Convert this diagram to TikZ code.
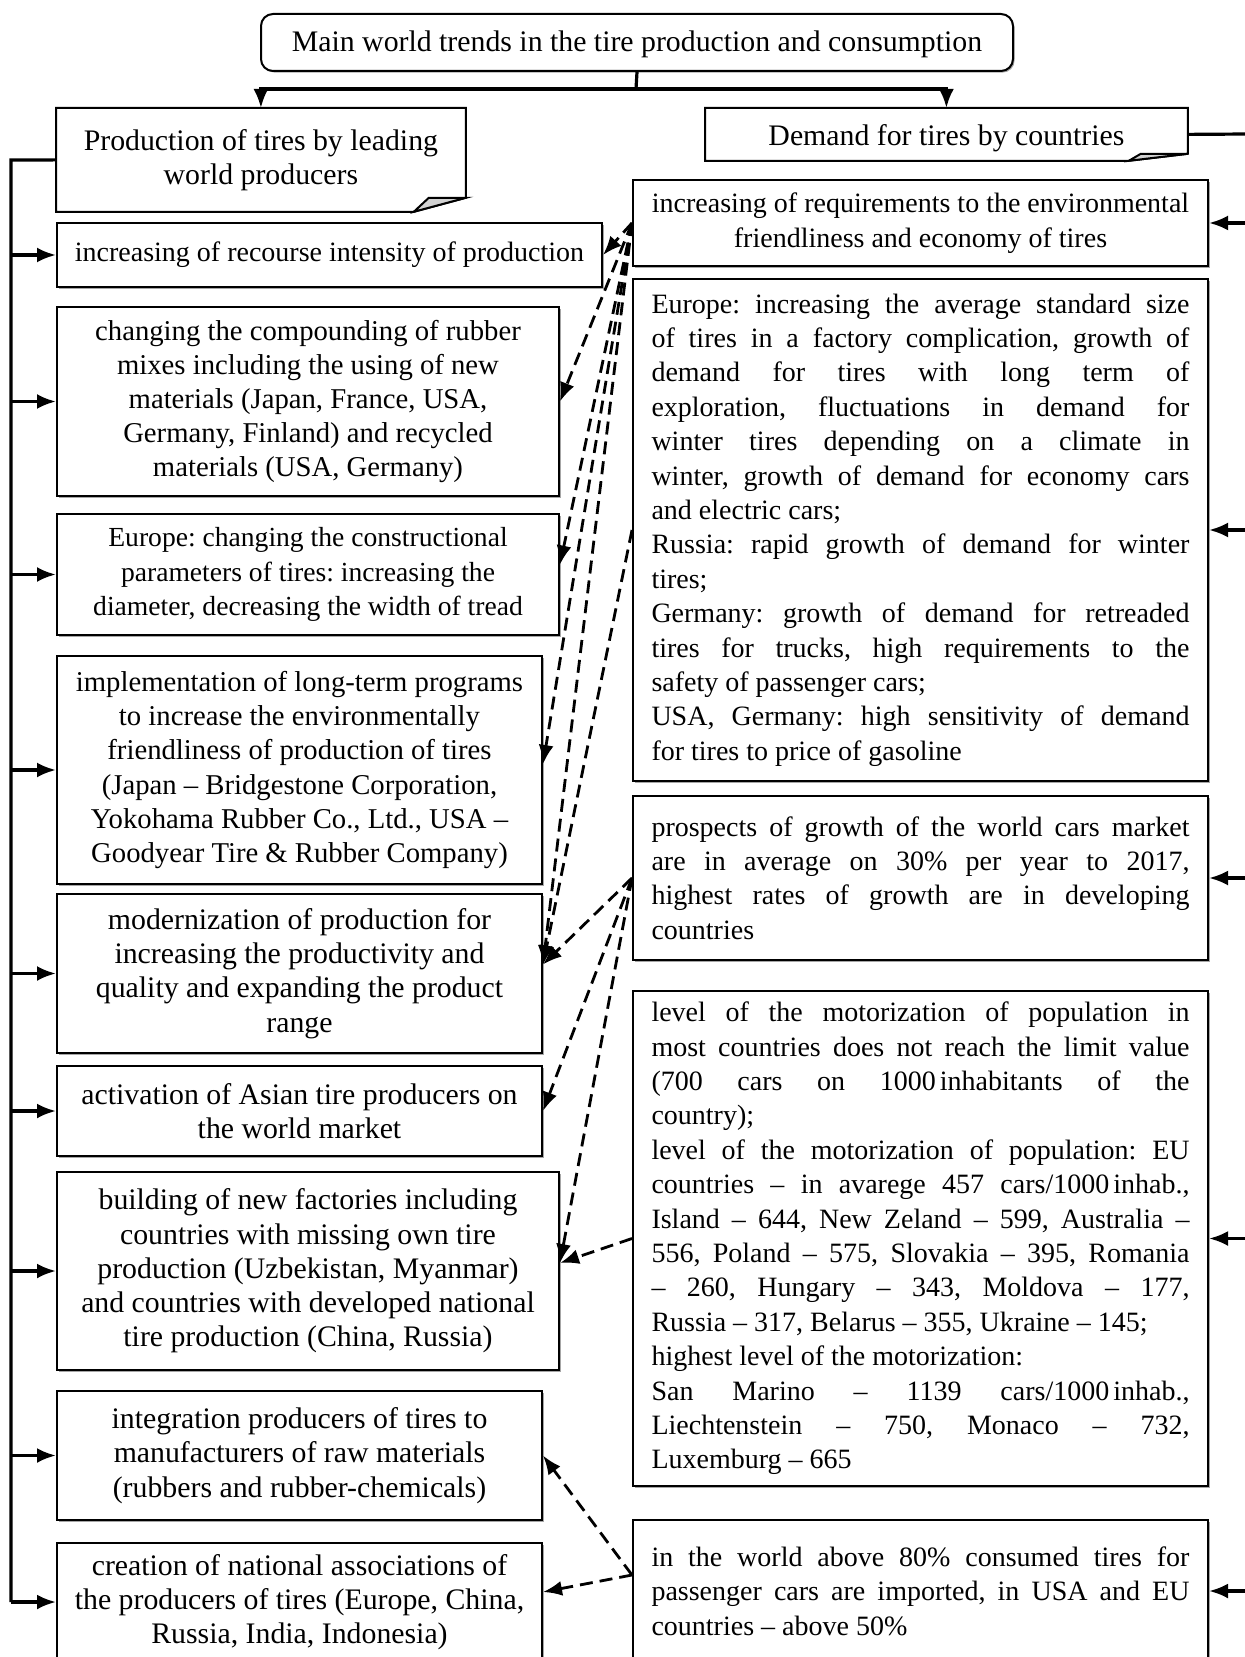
\documentclass[tikz,border=0pt]{standalone}
\usepackage{fontspec}
\setmainfont{Liberation Serif}
\usetikzlibrary{arrows.meta,shadows}
\frenchspacing

\begin{document}
\begin{tikzpicture}[x=0.5pt,y=-0.5pt]
\tikzstyle{every node}+=[font=\fontsize{14pt}{17.2pt}\selectfont]
\tikzstyle{big}=[font=\fontsize{14.9pt}{17.1pt}\selectfont]
\tikzstyle{mid}=[font=\fontsize{14.35pt}{17.1pt}\selectfont]
\tikzstyle{box}=[draw=black, line width=1pt, fill=white, inner sep=0pt, anchor=north west, align=center, drop shadow={shadow xshift=0.8pt,shadow yshift=-0.8pt,fill=gray!70,opacity=1}]
\tikzstyle{rbox}=[box, align=justify, text width=269pt, inner xsep=9.25pt]
\tikzstyle{note}=[big, inner sep=0pt, anchor=north west, align=center]
\tikzstyle{link}=[line width=1.6pt, -{Latex[length=9.5pt,width=7.5pt]}]
\tikzstyle{dlink}=[line width=1.4pt, dash pattern=on 6.5pt off 3.5pt, -{Latex[length=9.5pt,width=7.5pt]}]
\useasboundingbox (0,0) rectangle (1245,1657);

\node[box, big, rounded corners=6pt, minimum width=376pt, minimum height=28.5pt] (title) at (260,13) {\raisebox{-1pt}[\height][\depth]{Main world trends in the tire production and consumption}};

\node[note, minimum width=204.5pt, minimum height=51.5pt] (prod) at (56,108) {Production of tires by leading\\world producers};
\draw[line width=1pt] (prod.north west) -- (prod.north east) -- ([yshift=7pt]prod.south east) -- ([xshift=-26pt]prod.south east) -- (prod.south west) -- cycle;
\draw[line width=1pt, fill=gray!35] ([xshift=-26pt]prod.south east) -- ([xshift=-18.5pt,yshift=7pt]prod.south east) -- ([yshift=7pt]prod.south east) -- cycle;

\node[note, minimum width=241pt, minimum height=26pt] (demand) at (705,108) {\raisebox{-2pt}[\height][\depth]{Demand for tires by countries}};
\draw[line width=1pt] (demand.north west) -- (demand.north east) -- ([yshift=3.5pt]demand.south east) -- ([xshift=-29.5pt]demand.south east) -- (demand.south west) -- cycle;
\draw[line width=1pt, fill=gray!35] ([xshift=-29.5pt]demand.south east) -- ([xshift=-23.5pt,yshift=3.5pt]demand.south east) -- ([yshift=3.5pt]demand.south east) -- cycle;

\node[box, minimum width=272.5pt, minimum height=32pt] (b1) at (56,222) {increasing of recourse intensity of production};
\node[box, mid, minimum width=251pt, minimum height=94.5pt] (b2) at (56,306) {changing the compounding of rubber\\mixes including the using of new\\materials (Japan, France, USA,\\Germany, Finland) and recycled\\materials (USA, Germany)};
\node[box, font=\fontsize{13.8pt}{17.1pt}\selectfont, minimum width=251pt, minimum height=60.5pt] (b3) at (56,513) {Europe: changing the constructional\\parameters of tires: increasing the\\diameter, decreasing the width of tread};
\node[box, mid, minimum width=242.5pt, minimum height=114pt] (b4) at (56,655) {implementation of long-term programs\\to increase the environmentally\\friendliness of production of tires\\(Japan -- Bridgestone Corporation,\\Yokohama Rubber Co., Ltd., USA --\\Goodyear Tire \& Rubber Company)};
\node[box, big, minimum width=242.5pt, minimum height=79.5pt] (b5) at (56,893) {modernization of production for\\increasing the productivity and\\quality and expanding the product\\range};
\node[box, big, minimum width=242.5pt, minimum height=45pt] (b6) at (56,1065) {activation of Asian tire producers on\\the world market};
\node[box, big, minimum width=251pt, minimum height=99pt] (b7) at (56,1171) {building of new factories including\\countries with missing own tire\\production (Uzbekistan, Myanmar)\\and countries with developed national\\tire production (China, Russia)};
\node[box, big, minimum width=242.5pt, minimum height=64.5pt] (b8) at (56,1390) {integration producers of tires to\\manufacturers of raw materials\\(rubbers and rubber-chemicals)};
\node[box, big, minimum width=242.5pt, minimum height=59pt] (b9) at (56,1542) {creation of national associations of\\the producers of tires (Europe, China,\\Russia, India, Indonesia)};

\node[box, minimum width=287.5pt, minimum height=43pt] (r1) at (632,179) {increasing of requirements to the environmental\\friendliness and economy of tires};
\node[rbox, minimum height=251pt] (r2) at (632,278) {Europe: increasing the average standard size\linebreak of tires in a factory complication, growth of\linebreak demand for tires with long term of\linebreak exploration, fluctuations in demand for\linebreak winter tires depending on a climate in\linebreak winter, growth of demand for economy cars\linebreak and electric cars;\\Russia: rapid growth of demand for winter\linebreak tires;\\Germany: growth of demand for retreaded\linebreak tires for trucks, high requirements to the\linebreak safety of passenger cars;\\USA, Germany: high sensitivity of demand\linebreak for tires to price of gasoline};
\node[rbox, minimum height=82pt] (r3) at (632,795) {prospects of growth of the world cars market\linebreak are in average on 30\% per year to 2017,\linebreak highest rates of growth are in developing\linebreak countries};
\node[rbox, minimum height=247.5pt] (r4) at (632,990) {level of the motorization of population in\linebreak most countries does not reach the limit value\linebreak (700 cars on 1000\kern2pt inhabitants of the\linebreak country);\\level of the motorization of population: EU\linebreak countries -- in avarege 457 cars/1000\kern2pt inhab.,\linebreak Island -- 644, New Zeland -- 599, Australia --\linebreak 556, Poland -- 575, Slovakia -- 395, Romania\linebreak -- 260, Hungary -- 343, Moldova -- 177,\linebreak Russia -- 317, Belarus -- 355, Ukraine -- 145;\\highest level of the motorization:\\San Marino -- 1139 cars/1000\kern2pt inhab.,\linebreak Liechtenstein -- 750, Monaco -- 732,\linebreak Luxemburg -- 665};
\node[rbox, minimum height=71pt] (r5) at (632,1519) {in the world above 80\% consumed tires for\linebreak passenger cars are imported, in USA and EU\linebreak countries -- above 50\%};

\coordinate (split) at (636,89);
\draw[line width=1.6pt] (title.south) -- (split);
\draw[link] (split) -| (prod.north);
\draw[link] (split) -| (demand.north);

\coordinate (ltop) at (11,160);
\draw[line width=1.6pt] (prod.west) -- (ltop) -- (ltop |- b9.west);
\draw[link] (ltop |- b1.west) -- (b1.west);
\draw[link] (ltop |- b2.west) -- (b2.west);
\draw[link] (ltop |- b3.west) -- (b3.west);
\draw[link] (ltop |- b4.west) -- (b4.west);
\draw[link] (ltop |- b5.west) -- (b5.west);
\draw[link] (ltop |- b6.west) -- (b6.west);
\draw[link] (ltop |- b7.west) -- (b7.west);
\draw[link] (ltop |- b8.west) -- (b8.west);
\draw[link] (ltop |- b9.west) -- (b9.west);

\coordinate (rtop) at (1249,134);
\draw[line width=1.6pt] (demand.east) -- (rtop) -- (rtop |- r5.east);
\draw[link] (rtop |- r1.east) -- (r1.east);
\draw[link] (rtop |- r2.east) -- (r2.east);
\draw[link] (rtop |- r3.east) -- (r3.east);
\draw[link] (rtop |- r4.east) -- (r4.east);
\draw[link] (rtop |- r5.east) -- (r5.east);

\draw[dlink] (r1.west) -- (b1.east);
\draw[dlink] (r1.west) -- (b2.east);
\draw[dlink] (r1.west) -- ([yshift=5pt]b3.east);
\draw[dlink] (r1.west) -- ([yshift=3pt]b4.east);
\draw[dlink] (r1.west) -- ([yshift=4.5pt]b5.east);
\draw[dlink] (r2.west) -- ([yshift=4.5pt]b5.east);
\draw[dlink] (r3.west) -- ([yshift=4.5pt]b5.east);
\draw[dlink] (r3.west) -- (b6.east);
\draw[dlink] (r3.west) -- ([yshift=4pt]b7.east);
\draw[dlink] (r4.west) -- ([yshift=4pt]b7.east);
\draw[dlink] ([yshift=8pt]r5.west) -- (b8.east);
\draw[dlink] ([yshift=8pt]r5.west) -- ([yshift=5pt]b9.east);
\end{tikzpicture}
\end{document}
